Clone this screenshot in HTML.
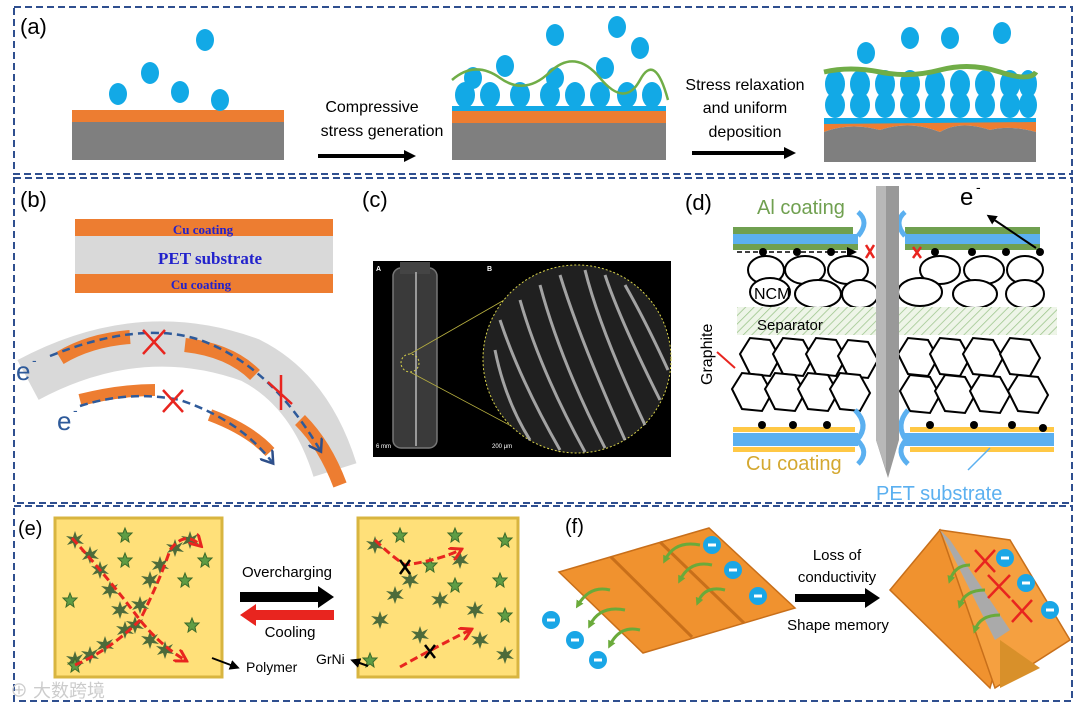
<!DOCTYPE html>
<html><head><meta charset="utf-8"><style>
html,body{margin:0;padding:0;background:#fff}
svg{display:block}
</style></head><body>
<svg width="1080" height="708" viewBox="0 0 1080 708" xmlns="http://www.w3.org/2000/svg" font-family="Liberation Sans, sans-serif">
<defs>
<pattern id="hatch" width="6" height="6" patternUnits="userSpaceOnUse" patternTransform="rotate(45)">
<rect width="6" height="6" fill="#eef5e8"/><line x1="0" y1="0" x2="0" y2="6" stroke="#9bc48a" stroke-width="1.5"/></pattern>
<polygon id="star" points="0,-9 2,-3 8,-6 4,0 9,4 2,3 0,9 -2,3 -8,5 -4,0 -9,-4 -2,-3" fill="#4d6b3a"/>
<polygon id="gstar" points="0,-7 2,-2 7,-2 3,2 4,7 0,4 -4,7 -3,2 -7,-2 -2,-2" fill="#5f9d45" stroke="#3c6a2a" stroke-width="1"/>
<polygon id="hex" points="-20,-6 -10,-22 10,-20 20,-2 10,16 -10,14" fill="#fff" stroke="#000" stroke-width="2"/>
<g id="neg"><circle r="9" fill="#1aa6e6"/><rect x="-4" y="-1.5" width="8" height="3" fill="#fff"/></g>
<marker id="ah" markerUnits="userSpaceOnUse" markerWidth="12" markerHeight="12" refX="4" refY="6" orient="auto"><path d="M0,0 L12,6 L0,12 Z" fill="#000"/></marker>
<marker id="ahs" markerUnits="userSpaceOnUse" markerWidth="10" markerHeight="10" refX="6" refY="5" orient="auto"><path d="M0,0 L10,5 L0,10 Z" fill="#000"/></marker>
<marker id="ahr" markerUnits="userSpaceOnUse" markerWidth="14" markerHeight="14" refX="10" refY="7" orient="auto"><path d="M0,0 L12,7 L0,14" fill="none" stroke="#e8251f" stroke-width="3"/></marker>
<marker id="ahb" markerUnits="userSpaceOnUse" markerWidth="16" markerHeight="16" refX="10" refY="8" orient="auto"><path d="M0,0 L12,8 L0,16" fill="none" stroke="#2e4f8a" stroke-width="2.5"/></marker>
<marker id="ahg" markerUnits="userSpaceOnUse" markerWidth="8" markerHeight="8" refX="4" refY="4" orient="auto"><path d="M0,0 L8,4 L0,8 Z" fill="#6aaa3a"/></marker>
</defs>
<!-- frames -->
<g fill="none" stroke="#2f4f8f" stroke-width="2" stroke-dasharray="7,4">
<rect x="14" y="7" width="1058" height="167"/>
<rect x="14" y="178" width="1058" height="325"/>
<rect x="14" y="506" width="1058" height="195"/>
</g>
<!-- (a) -->
<text x="20" y="34" font-size="22">(a)</text>
<rect x="72" y="110" width="212" height="12" fill="#ed7d31"/>
<rect x="72" y="122" width="212" height="38" fill="#7f7f7f"/>
<g fill="#12a9e6">
<ellipse cx="205" cy="40" rx="9" ry="11"/><ellipse cx="150" cy="73" rx="9" ry="11"/><ellipse cx="118" cy="94" rx="9" ry="11"/><ellipse cx="180" cy="92" rx="9" ry="11"/><ellipse cx="220" cy="100" rx="9" ry="11"/>
</g>
<text x="372" y="112" font-size="16" text-anchor="middle">Compressive</text>
<text x="382" y="136" font-size="16" text-anchor="middle">stress generation</text>
<line x1="318" y1="156" x2="408" y2="156" stroke="#000" stroke-width="4" marker-end="url(#ah)"/>
<rect x="452" y="106" width="214" height="5" fill="#12a9e6"/>
<rect x="452" y="111" width="214" height="12" fill="#ed7d31"/>
<rect x="452" y="123" width="214" height="37" fill="#7f7f7f"/>
<g fill="#12a9e6">
<ellipse cx="465" cy="95" rx="10" ry="13"/><ellipse cx="490" cy="95" rx="10" ry="13"/><ellipse cx="520" cy="95" rx="10" ry="13"/><ellipse cx="550" cy="95" rx="10" ry="13"/><ellipse cx="575" cy="95" rx="10" ry="13"/><ellipse cx="600" cy="95" rx="10" ry="13"/><ellipse cx="627" cy="95" rx="10" ry="13"/><ellipse cx="652" cy="95" rx="10" ry="13"/>
<ellipse cx="473" cy="78" rx="9" ry="11"/><ellipse cx="505" cy="66" rx="9" ry="11"/><ellipse cx="555" cy="78" rx="9" ry="11"/><ellipse cx="605" cy="68" rx="9" ry="11"/><ellipse cx="555" cy="35" rx="9" ry="11"/><ellipse cx="617" cy="27" rx="9" ry="11"/><ellipse cx="640" cy="48" rx="9" ry="11"/>
</g>
<path d="M452,80 Q475,60 500,78 T550,72 T600,78 T640,80 T668,100" fill="none" stroke="#70ad47" stroke-width="2.5"/>
<text x="745" y="90" font-size="16" text-anchor="middle">Stress relaxation</text>
<text x="745" y="113" font-size="16" text-anchor="middle">and uniform</text>
<text x="745" y="137" font-size="16" text-anchor="middle">deposition</text>
<line x1="692" y1="153" x2="788" y2="153" stroke="#000" stroke-width="4" marker-end="url(#ah)"/>
<rect x="824" y="118" width="212" height="6" fill="#12a9e6"/>
<path d="M824,124 L1036,122 L1036,132 Q1010,125 990,130 Q960,120 940,132 Q910,120 880,130 Q850,122 824,132 Z" fill="#ed7d31"/>
<path d="M824,132 Q850,122 880,130 Q910,120 940,132 Q960,120 990,130 Q1010,125 1036,132 L1036,162 L824,162 Z" fill="#7f7f7f"/>
<g fill="#12a9e6">
<ellipse cx="835" cy="84" rx="10" ry="14"/><ellipse cx="860" cy="84" rx="10" ry="14"/><ellipse cx="885" cy="84" rx="10" ry="14"/><ellipse cx="910" cy="84" rx="10" ry="14"/><ellipse cx="935" cy="84" rx="10" ry="14"/><ellipse cx="960" cy="84" rx="10" ry="14"/><ellipse cx="985" cy="84" rx="10" ry="14"/><ellipse cx="1010" cy="84" rx="10" ry="14"/><ellipse cx="1028" cy="84" rx="9" ry="14"/>
<ellipse cx="835" cy="105" rx="10" ry="13"/><ellipse cx="860" cy="105" rx="10" ry="13"/><ellipse cx="885" cy="105" rx="10" ry="13"/><ellipse cx="910" cy="105" rx="10" ry="13"/><ellipse cx="935" cy="105" rx="10" ry="13"/><ellipse cx="960" cy="105" rx="10" ry="13"/><ellipse cx="985" cy="105" rx="10" ry="13"/><ellipse cx="1010" cy="105" rx="10" ry="13"/><ellipse cx="1028" cy="105" rx="9" ry="13"/>
<ellipse cx="866" cy="53" rx="9" ry="11"/><ellipse cx="910" cy="38" rx="9" ry="11"/><ellipse cx="950" cy="38" rx="9" ry="11"/><ellipse cx="1002" cy="33" rx="9" ry="11"/>
</g>
<path d="M824,72 Q850,66 880,72 T940,70 T1000,72 T1036,72" fill="none" stroke="#70ad47" stroke-width="5"/>
<!-- (b) -->
<text x="20" y="207" font-size="22">(b)</text>
<rect x="75" y="219" width="258" height="17" fill="#ed7d31"/>
<rect x="75" y="236" width="258" height="38" fill="#d9d9d9"/>
<rect x="75" y="274" width="258" height="19" fill="#ed7d31"/>
<g font-family="Liberation Serif, serif" font-weight="bold" fill="#2222cc" text-anchor="middle">
<text x="203" y="234" font-size="13">Cu coating</text>
<text x="210" y="264" font-size="17">PET substrate</text>
<text x="201" y="289" font-size="13">Cu coating</text>
</g>
<path d="M28,380 Q140,320 250,360 Q310,390 335,470" fill="none" stroke="#d9d9d9" stroke-width="45"/>
<path d="M60,358 Q90,340 130,337" fill="none" stroke="#ed7d31" stroke-width="14"/>
<path d="M185,345 Q230,350 255,375" fill="none" stroke="#ed7d31" stroke-width="14"/>
<path d="M80,400 Q120,390 155,390" fill="none" stroke="#ed7d31" stroke-width="12"/>
<path d="M210,415 Q250,430 270,452" fill="none" stroke="#ed7d31" stroke-width="12"/>
<path d="M300,420 Q325,445 340,485" fill="none" stroke="#ed7d31" stroke-width="14"/>
<path d="M50,356 Q140,320 200,340 Q270,365 320,450" fill="none" stroke="#2e5a9a" stroke-width="2.5" stroke-dasharray="8,5" marker-end="url(#ahb)"/>
<path d="M80,406 Q130,390 180,400 Q240,420 272,462" fill="none" stroke="#2e5a9a" stroke-width="2.5" stroke-dasharray="8,5" marker-end="url(#ahb)"/>
<text x="16" y="380" font-size="26" fill="#2e5a9a">e</text><text x="32" y="365" font-size="14" fill="#2e5a9a">-</text>
<text x="57" y="430" font-size="26" fill="#2e5a9a">e</text><text x="73" y="415" font-size="14" fill="#2e5a9a">-</text>
<g stroke="#e8251f" stroke-width="2.5">
<path d="M143,330 L165,354 M165,330 L143,354"/><path d="M163,390 L183,412 M183,390 L163,412"/><path d="M268,382 L292,404 M281,375 L281,410"/>
</g>
<!-- (c) -->
<text x="362" y="207" font-size="22">(c)</text>
<rect x="373" y="261" width="298" height="196" fill="#000"/>
<rect x="393" y="268" width="44" height="180" rx="8" fill="#3a3a3a" stroke="#777" stroke-width="1.5"/>
<rect x="400" y="262" width="30" height="12" fill="#444"/>
<line x1="416" y1="272" x2="416" y2="446" stroke="#999" stroke-width="2"/>
<circle cx="410" cy="363" r="9" fill="none" stroke="#d8d24a" stroke-dasharray="2,2"/>
<line x1="410" y1="354" x2="560" y2="268" stroke="#b8b040" stroke-width="0.8"/>
<line x1="410" y1="372" x2="560" y2="452" stroke="#b8b040" stroke-width="0.8"/>
<circle cx="577" cy="359" r="94" fill="#202020" stroke="#d8d24a" stroke-dasharray="2,2"/>
<g fill="none" stroke="#bbb" stroke-width="3" opacity="0.85">
<path d="M500,320 Q520,380 560,450"/><path d="M520,300 Q540,370 585,452"/><path d="M540,285 Q560,360 605,448"/><path d="M560,275 Q580,340 625,440"/><path d="M585,270 Q600,330 645,425"/><path d="M605,275 Q620,320 660,400"/><path d="M625,285 Q645,320 668,370"/><path d="M495,350 Q505,400 530,440"/>
</g>
<text x="376" y="271" font-size="7" fill="#fff" font-weight="bold">A</text>
<text x="487" y="271" font-size="7" fill="#fff" font-weight="bold">B</text>
<text x="376" y="448" font-size="6" fill="#fff">6 mm</text><text x="492" y="448" font-size="6" fill="#fff">200 μm</text>
<!-- (d) -->
<text x="685" y="210" font-size="22">(d)</text>
<rect x="733" y="227" width="120" height="7" fill="#70a050"/>
<rect x="733" y="234" width="125" height="10" fill="#5bb0f0"/>
<rect x="733" y="244" width="125" height="6" fill="#70a050"/>
<rect x="905" y="227" width="135" height="7" fill="#70a050"/>
<rect x="905" y="234" width="135" height="10" fill="#5bb0f0"/>
<rect x="905" y="244" width="135" height="6" fill="#70a050"/>
<line x1="737" y1="252" x2="853" y2="252" stroke="#000" stroke-width="1.5" stroke-dasharray="5,3" marker-end="url(#ahs)"/>
<g fill="#000"><circle cx="763" cy="252" r="4"/><circle cx="797" cy="252" r="4"/><circle cx="831" cy="252" r="4"/><circle cx="935" cy="252" r="4"/><circle cx="972" cy="252" r="4"/><circle cx="1006" cy="252" r="4"/><circle cx="1040" cy="252" r="4"/></g>
<line x1="1036" y1="248" x2="990" y2="217" stroke="#000" stroke-width="2" marker-end="url(#ahs)"/>
<text x="960" y="205" font-size="24">e</text><text x="976" y="192" font-size="14">-</text>
<text x="757" y="214" font-size="20" fill="#70a050">Al coating</text>
<g fill="#fff" stroke="#000" stroke-width="2">
<ellipse cx="766" cy="270" rx="18" ry="14"/><ellipse cx="805" cy="270" rx="20" ry="14"/><ellipse cx="848" cy="270" rx="20" ry="14"/>
<ellipse cx="940" cy="270" rx="20" ry="14"/><ellipse cx="984" cy="270" rx="20" ry="14"/><ellipse cx="1025" cy="270" rx="18" ry="14"/>
<ellipse cx="770" cy="292" rx="20" ry="14"/><ellipse cx="818" cy="294" rx="23" ry="14"/><ellipse cx="860" cy="294" rx="18" ry="14"/>
<ellipse cx="920" cy="292" rx="22" ry="14"/><ellipse cx="975" cy="294" rx="22" ry="14"/><ellipse cx="1025" cy="294" rx="19" ry="14"/>
</g>
<text x="754" y="299" font-size="16">NCM</text>
<rect x="737" y="307" width="320" height="28" fill="url(#hatch)"/>
<text x="757" y="330" font-size="15">Separator</text>
<g>
<use href="#hex" x="760" y="360"/><use href="#hex" x="793" y="360"/><use href="#hex" x="826" y="360"/><use href="#hex" x="858" y="362"/>
<use href="#hex" x="918" y="360"/><use href="#hex" x="950" y="360"/><use href="#hex" x="983" y="360"/><use href="#hex" x="1020" y="360"/>
<use href="#hex" x="752" y="395"/><use href="#hex" x="785" y="395"/><use href="#hex" x="818" y="395"/><use href="#hex" x="850" y="395"/>
<use href="#hex" x="920" y="397"/><use href="#hex" x="955" y="397"/><use href="#hex" x="990" y="397"/><use href="#hex" x="1028" y="397"/>
</g>
<text transform="translate(712,385) rotate(-90)" font-size="16">Graphite</text>
<line x1="717" y1="352" x2="735" y2="368" stroke="#e8251f" stroke-width="2"/>
<rect x="733" y="427" width="122" height="5" fill="#ffc845"/>
<rect x="733" y="433" width="125" height="13" fill="#5bb0f0"/>
<rect x="733" y="447" width="122" height="5" fill="#ffc845"/>
<rect x="910" y="427" width="144" height="5" fill="#ffc845"/>
<rect x="905" y="433" width="149" height="13" fill="#5bb0f0"/>
<rect x="910" y="447" width="144" height="5" fill="#ffc845"/>
<g fill="#000"><circle cx="762" cy="425" r="4"/><circle cx="793" cy="425" r="4"/><circle cx="827" cy="425" r="4"/><circle cx="930" cy="425" r="4"/><circle cx="974" cy="425" r="4"/><circle cx="1012" cy="425" r="4"/><circle cx="1043" cy="428" r="4"/></g>
<g fill="none" stroke="#5bb0f0" stroke-width="5">
<path d="M858,212 Q870,222 858,236"/><path d="M905,212 Q893,222 905,236"/>
<path d="M855,410 Q870,425 857,440 Q870,452 858,464"/><path d="M908,410 Q895,425 906,440 Q895,452 908,464"/>
</g>
<line x1="990" y1="448" x2="968" y2="470" stroke="#5bb0f0" stroke-width="1.5"/>
<path d="M876,186 L899,186 L899,440 L888,478 L876,440 Z" fill="#999"/>
<path d="M876,186 L886,186 L886,470 L876,440 Z" fill="#b8b8b8"/>
<g stroke="#e8251f" stroke-width="2.5"><path d="M866,245 L874,258 M874,245 L866,258"/><path d="M913,247 L921,258 M921,247 L913,258"/></g>
<text x="746" y="470" font-size="20" fill="#d4a830">Cu coating</text>
<text x="876" y="500" font-size="20" fill="#5bb0f0">PET substrate</text>
<!-- (e) -->
<text x="18" y="535" font-size="20">(e)</text>
<rect x="55" y="518" width="167" height="159" fill="#ffe079" stroke="#d8b540" stroke-width="3"/>
<rect x="358" y="518" width="160" height="159" fill="#ffe079" stroke="#d8b540" stroke-width="3"/>
<g>
<use href="#star" x="75" y="540"/><use href="#star" x="90" y="555"/><use href="#star" x="100" y="570"/><use href="#star" x="110" y="590"/><use href="#star" x="120" y="610"/><use href="#star" x="135" y="625"/><use href="#star" x="150" y="640"/><use href="#star" x="165" y="650"/>
<use href="#star" x="75" y="660"/><use href="#star" x="90" y="655"/><use href="#star" x="105" y="645"/><use href="#star" x="125" y="630"/><use href="#star" x="140" y="605"/><use href="#star" x="150" y="580"/><use href="#star" x="160" y="565"/><use href="#star" x="175" y="548"/><use href="#star" x="190" y="540"/>
<use href="#gstar" x="125" y="535"/><use href="#gstar" x="185" y="580"/><use href="#gstar" x="205" y="560"/><use href="#gstar" x="70" y="600"/><use href="#gstar" x="192" y="625"/><use href="#gstar" x="125" y="560"/><use href="#gstar" x="75" y="665"/>
<use href="#star" x="375" y="545"/><use href="#star" x="410" y="580"/><use href="#star" x="460" y="560"/><use href="#star" x="380" y="620"/><use href="#star" x="420" y="635"/><use href="#star" x="475" y="610"/><use href="#star" x="440" y="600"/><use href="#star" x="505" y="655"/><use href="#star" x="480" y="640"/><use href="#star" x="395" y="595"/>
<use href="#gstar" x="400" y="535"/><use href="#gstar" x="430" y="565"/><use href="#gstar" x="505" y="540"/><use href="#gstar" x="500" y="580"/><use href="#gstar" x="455" y="585"/><use href="#gstar" x="370" y="660"/><use href="#gstar" x="505" y="615"/><use href="#gstar" x="455" y="535"/>
</g>
<g fill="none" stroke="#e8251f" stroke-width="3" stroke-dasharray="8,4">
<path d="M72,538 Q110,580 140,620 Q160,645 185,660" marker-end="url(#ahr)"/>
<path d="M75,665 Q110,650 140,620 Q160,580 170,550 Q185,530 200,545" marker-end="url(#ahr)"/>
<path d="M375,540 Q390,555 405,565 Q440,560 460,550" marker-end="url(#ahr)"/>
<path d="M400,667 Q430,650 470,630" marker-end="url(#ahr)"/>
</g>
<g stroke="#000" stroke-width="2.5"><path d="M400,560 L410,574 M410,560 L400,574"/><path d="M425,645 L435,658 M435,645 L425,658"/></g>
<text x="287" y="577" font-size="15" text-anchor="middle">Overcharging</text>
<path d="M240,592 L318,592 L318,586 L334,597 L318,608 L318,602 L240,602 Z" fill="#000"/>
<path d="M334,610 L256,610 L256,604 L240,615 L256,626 L256,620 L334,620 Z" fill="#e8251f"/>
<text x="290" y="637" font-size="15" text-anchor="middle">Cooling</text>
<line x1="212" y1="658" x2="236" y2="667" stroke="#000" stroke-width="2" marker-end="url(#ahs)"/>
<text x="246" y="672" font-size="14">Polymer</text>
<text x="316" y="664" font-size="14">GrNi</text>
<line x1="368" y1="666" x2="354" y2="661" stroke="#000" stroke-width="2" marker-end="url(#ahs)"/>
<!-- (f) -->
<text x="565" y="533" font-size="20">(f)</text>
<polygon points="559,572 709,528 795,608 643,653" fill="#f0922f" stroke="#c86f1a" stroke-width="1.5"/>
<line x1="611" y1="557" x2="692" y2="637" stroke="#c86f1a" stroke-width="3"/>
<line x1="660" y1="542" x2="744" y2="623" stroke="#c86f1a" stroke-width="3"/>
<g fill="none" stroke="#6aaa3a" stroke-width="3">
<path d="M610,590 Q590,585 578,605" marker-end="url(#ahg)"/><path d="M625,610 Q600,605 590,625" marker-end="url(#ahg)"/><path d="M640,630 Q620,625 610,645" marker-end="url(#ahg)"/>
<path d="M700,545 Q675,540 665,560" marker-end="url(#ahg)"/><path d="M712,565 Q690,560 680,580" marker-end="url(#ahg)"/><path d="M725,590 Q705,585 698,602" marker-end="url(#ahg)"/>
</g>
<use href="#neg" x="712" y="545"/><use href="#neg" x="733" y="570"/><use href="#neg" x="758" y="596"/>
<use href="#neg" x="551" y="620"/><use href="#neg" x="575" y="640"/><use href="#neg" x="598" y="660"/>
<text x="837" y="560" font-size="15" text-anchor="middle">Loss of</text>
<text x="837" y="582" font-size="15" text-anchor="middle">conductivity</text>
<path d="M795,594 L865,594 L865,588 L880,598 L865,608 L865,602 L795,602 Z" fill="#000"/>
<text x="838" y="630" font-size="15" text-anchor="middle">Shape memory</text>
<polygon points="890,590 940,530 995,670 990,688" fill="#f0922f" stroke="#c86f1a" stroke-width="1.5"/>
<polygon points="940,530 1010,540 1070,640 995,688" fill="#f5a040" stroke="#c86f1a" stroke-width="1.5"/>
<polygon points="940,530 950,540 1010,630 995,640" fill="#aaa"/>
<polygon points="1000,640 1040,668 1000,688" fill="#d8902a"/>
<g fill="none" stroke="#6aaa3a" stroke-width="3">
<path d="M970,565 Q955,565 950,580" marker-end="url(#ahg)"/><path d="M985,590 Q965,590 960,605" marker-end="url(#ahg)"/><path d="M1000,615 Q980,615 975,630" marker-end="url(#ahg)"/>
</g>
<g stroke="#e8251f" stroke-width="2.5"><path d="M975,550 L995,572 M995,550 L975,572"/><path d="M988,575 L1010,598 M1010,575 L988,598"/><path d="M1012,600 L1032,622 M1032,600 L1012,622"/></g>
<use href="#neg" x="1005" y="558"/><use href="#neg" x="1026" y="583"/><use href="#neg" x="1050" y="610"/>
<text x="10" y="697" font-size="18" fill="#ccc" font-family="Liberation Sans, Noto Sans CJK SC, sans-serif">⊕ 大数跨境</text>
</svg>
</body></html>
